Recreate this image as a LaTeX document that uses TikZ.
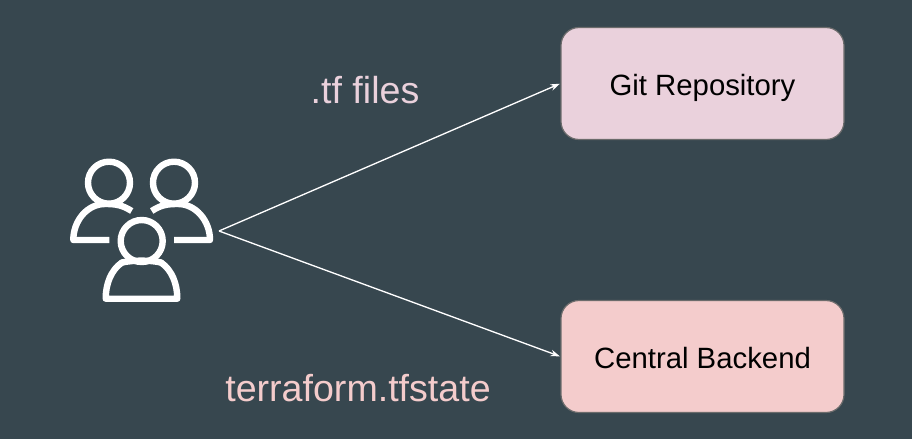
\documentclass[tikz,border=0pt]{standalone}
\usepackage{fontspec}
\setmainfont{Liberation Sans}
\usetikzlibrary{arrows.meta}
\definecolor{bgc}{HTML}{37474F}
\definecolor{gitc}{HTML}{EAD1DC}
\definecolor{backc}{HTML}{F4CCCC}
\definecolor{edgec}{HTML}{6B6B6B}
\tikzset{
  x=0.75pt,y=-0.75pt,
  boxnode/.style={draw=edgec,line width=0.9pt,rounded corners=13.5pt,minimum width=212.25pt,minimum height=84pt,inner sep=0pt,text=black,text height=17.25pt,text depth=0pt,font=\fontsize{22}{26}\selectfont},
  lbl/.style={inner sep=0pt,font=\fontsize{28.2}{33}\selectfont},
  link/.style={draw=white,line width=1pt,-{Stealth[length=7pt,width=5pt]},shorten >=0.5pt},
  icon/.style={draw=white,line width=4.8pt,line cap=round,line join=round}
}
\begin{document}
\begin{tikzpicture}
\useasboundingbox[fill=bgc] (0,0) rectangle (912,439);
\node[boxnode,fill=gitc] (git) at (702.5,83.5) {Git Repository};
\node[boxnode,fill=backc] (back) at (702.5,356.5) {Central Backend};
\node[lbl,text=gitc] (tf) at (365,90) {.tf files};
\node[lbl,text=backc] (state) at (358,388.5) {terraform.tfstate};
\coordinate (hub) at (219,231);
\draw[link] (hub) -- (git.west);
\draw[link] (hub) -- (back.west);
% people icon
\draw[icon] (109,182.7) circle (21);
\draw[icon] (174,182.7) circle (21);
\draw[icon] (141.7,241) circle (21);
\draw[icon,line cap=butt] (131.7,211) .. controls (122,205) and (116,204) .. (105,204) .. controls (87,204) and (73.3,221) .. (73.3,240) -- (109.3,240);
\draw[icon,line cap=butt] (151.7,211) .. controls (161,205) and (167,204) .. (178,204) .. controls (196,204) and (210,221) .. (210,240) -- (174,240);
\draw[icon] (122,262.5) .. controls (111,270) and (105.7,284) .. (105.7,298.7) -- (177.3,298.7) .. controls (177.3,284) and (172,270) .. (161,262.5);
\draw[icon] (122,262.5) .. controls (134,260) and (149,260) .. (161,262.5);
\end{tikzpicture}
\end{document}
